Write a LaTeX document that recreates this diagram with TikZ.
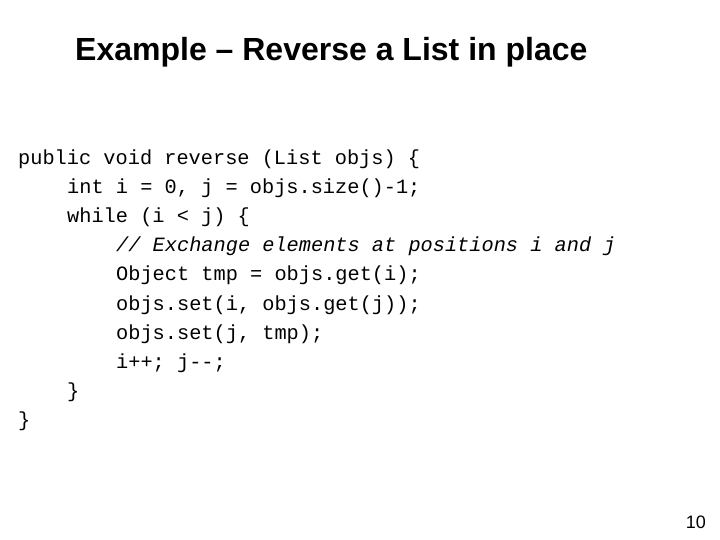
\documentclass[tikz,border=0pt]{standalone}
\usepackage{fontspec}
\setmainfont{Liberation Sans}
\newfontfamily\codefont{Liberation Mono}
\begin{document}
\begin{tikzpicture}[x=1bp,y=-1bp,
  codeline/.style = {anchor=base west,inner sep=0pt,font=\codefont\fontsize{20.3bp}{24bp}\selectfont}]
\useasboundingbox (0,0) rectangle (720,540);
\node [anchor=base west,inner sep=0pt,font=\bfseries\fontsize{32bp}{36bp}\selectfont] (title) at (75,61) {Example -- Reverse a List in place};

\node [codeline] (l1) at (18,165) {public void reverse (List objs) \{};
\node [codeline] (l2) at (67,194) {int i = 0, j = objs.size()-1;};
\node [codeline] (l3) at (67,223) {while (i < j) \{};
\node [codeline] (l4) at (116,252) {\itshape // Exchange elements at positions i and j};
\node [codeline] (l5) at (116,281) {Object tmp = objs.get(i);};
\node [codeline] (l6) at (116,310) {objs.set(i, objs.get(j));};
\node [codeline] (l7) at (116,339) {objs.set(j, tmp);};
\node [codeline] (l8) at (116,368) {i++; j-{}-;};
\node [codeline] (l9) at (67,397) {\}};
\node [codeline] (l10) at (18,426) {\}};

\node [anchor=base east,inner sep=0pt,font=\fontsize{18bp}{20bp}\selectfont] (page) at (706,528) {10};
\end{tikzpicture}
\end{document}
